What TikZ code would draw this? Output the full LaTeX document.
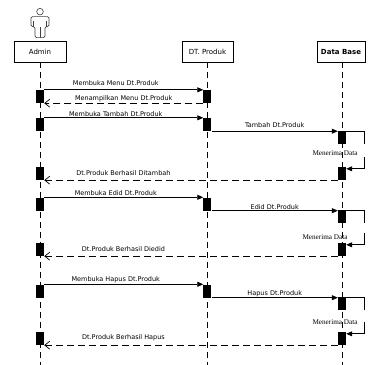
\documentclass[tikz,border=0pt]{standalone}
\usepackage{fontspec}
\setmainfont{DejaVu Sans}
\newfontfamily\serifdata{Liberation Serif}
\usetikzlibrary{arrows.meta, positioning}

\begin{document}
\begin{tikzpicture}[
    x=1pt, y=-1pt,
    head/.style={rectangle, draw, line width=0.7pt, minimum height=21pt, inner sep=1pt, font=\fontsize{7}{8}\selectfont},
    act/.style={rectangle, fill=black, minimum width=8pt, minimum height=13pt, inner sep=0pt},
    life/.style={dash pattern=on 6pt off 4pt, line width=0.9pt},
    msg/.style={-{Triangle[length=6pt,width=5pt]}, line width=0.7pt},
    ret/.style={-{Straight Barb[length=5pt,width=8pt]}, dash pattern=on 7pt off 4pt, line width=0.7pt},
    lbl/.style={font=\fontsize{6.5}{7.5}\selectfont, inner sep=1pt},
    selflbl/.style={font=\serifdata\fontsize{7.2}{8}\selectfont, inner sep=0pt}
]
\useasboundingbox (0,0) rectangle (368,365);

% Lifeline heads
\node[head, minimum width=52pt] (admin) at (40,51.5) {Admin};
\node[head, minimum width=51pt] (dt) at (207.5,51.5) {DT. Produk};
\node[head, minimum width=48pt, font=\fontsize{7}{8}\selectfont\bfseries] (db) at (341,51.5) {Data Base};
\coordinate (bottom) at (0,365);
\coordinate (edge) at (364,0);

% Actor
\begin{scope}[shift={(admin.north)}, draw=black!75, line width=0.6pt]
\draw (0,-29) circle (3.3);
\draw[rounded corners=1.5pt] (-5,-3) -- (-5,-14) -- (-9,-14) -- (-9,-24) -- (9,-24) -- (9,-14) -- (5,-14) -- (5,-3) -- cycle;
\draw (-6.5,-14) -- (-6.5,-20) (6.5,-14) -- (6.5,-20) (0,-3) -- (0,-14);
\end{scope}

% Lifelines
\draw[life] (admin) -- (admin |- bottom);
\draw[life] (dt) -- (dt |- bottom);
\draw[life] (342,62) -- (342,365);

% Activations
\node[act] (a1) at (40,96.5) {};
\node[act] (a2) at (40,124.5) {};
\node[act] (a3) at (40,173.5) {};
\node[act] (a4) at (40,204) {};
\node[act] (a5) at (40,249.5) {};
\node[act] (a6) at (40,291) {};
\node[act] (a7) at (40,338.5) {};
\node[act] (d1) at (207.5,96.5) {};
\node[act] (d2) at (207.5,124.5) {};
\node[act] (d3) at (207.5,204) {};
\node[act] (d4) at (207.5,291) {};
\node[act] (b1) at (342,137.5) {};
\node[act] (b2) at (342,173.5) {};
\node[act] (b3) at (342,216.5) {};
\node[act] (b4) at (342,249.5) {};
\node[act] (b5) at (342,303.5) {};
\node[act] (b6) at (342,338.5) {};

% Menu
\draw[msg] (a1.north east) -- node[lbl, above=3pt, pos=0.45] {Membuka Menu Dt.Produk} (d1.north west);
\draw[ret] (d1.south west) -- node[lbl, above] {Menampilkan Menu Dt.Produk} (a1.south east);

% Tambah
\draw[msg] (a2.north east) -- node[lbl, above, pos=0.45] {Membuka Tambah Dt.Produk} (d2.north west);
\draw[msg] (d2.south east) -- node[lbl, above=2pt] {Tambah Dt.Produk} (d2.south east -| b1.west);
\draw (b1.north east) -- (b1.north east -| edge) -- (b1.south east -| edge);
\node[selflbl] (t1) at (335,153) {Menerima Data};
\draw[msg] (b2.north east -| edge) ++(0,-10) |- ([yshift=-2pt]b2.north east);
\draw[ret] (b2.south west) -- node[lbl, above=3pt, pos=0.73] {Dt.Produk Berhasil Ditambah} (a3.south east);

% Edid
\draw[msg] (a4.north east) -- node[lbl, above, pos=0.45] {Membuka Edid Dt.Produk} (d3.north west);
\draw[msg] (d3.south east) -- node[lbl, above] {Edid Dt.Produk} (d3.south east -| b3.west);
\draw (b3.north east) -- (b3.north east -| edge) -- (b3.south east -| edge);
\node[selflbl] (t2) at (325,237) {Menerima Data};
\draw[msg] (b4.north east -| edge) ++(0,-10) |- ([yshift=-2pt]b4.north east);
\draw[ret] (b4.south west) -- node[lbl, above=3pt, pos=0.73] {Dt.Produk Berhasil Diedid} (a5.south east);

% Hapus
\draw[msg] (a6.north east) -- node[lbl, above, pos=0.45] {Membuka Hapus Dt.Produk} (d4.north west);
\draw[msg] (d4.south east) -- node[lbl, above] {Hapus Dt.Produk} (d4.south east -| b5.west);
\draw (b5.north east) -- (b5.north east -| edge) -- (b5.south east -| edge);
\node[selflbl] (t3) at (335,322) {Menerima Data};
\draw[msg] (b6.north east -| edge) ++(0,-10) |- ([yshift=-2pt]b6.north east);
\draw[ret] (b6.south west) -- node[lbl, above=3pt, pos=0.73] {Dt.Produk Berhasil Hapus} (a7.south east);

\end{tikzpicture}
\end{document}
